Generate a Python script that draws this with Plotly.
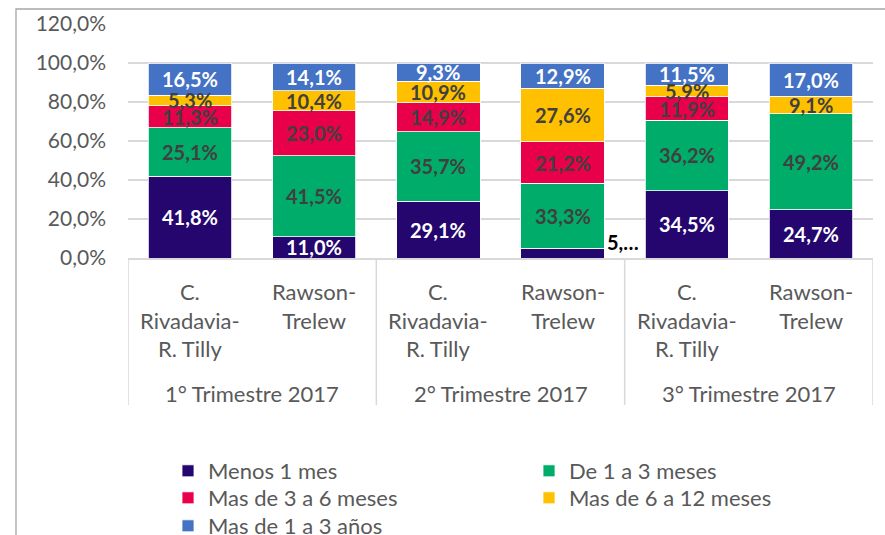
import plotly.graph_objects as go

# Quarter groups and the two urban areas inside each one
groups = ["1° Trimestre 2017", "2° Trimestre 2017", "3° Trimestre 2017"]
sites = ["C.<br>Rivadavia-<br>R. Tilly", "Rawson-<br>Trelew"]

# Share of unemployed by time looking for work (%)
menos_1_mes = [41.8, 11.0, 29.1, 5.0, 34.5, 24.7]
de_1_a_3_meses = [25.1, 41.5, 35.7, 33.3, 36.2, 49.2]
mas_3_a_6_meses = [11.3, 23.0, 14.9, 21.2, 11.9, 0.0]
mas_6_a_12_meses = [5.3, 10.4, 10.9, 27.6, 5.9, 9.1]
mas_1_a_3_anos = [16.5, 14.1, 9.3, 12.9, 11.5, 17.0]

series_names = ["Menos 1 mes", "De 1 a 3 meses", "Mas de 3 a 6 meses",
                "Mas de 6 a 12 meses", "Mas de 1 a 3 años"]
series_values = [menos_1_mes, de_1_a_3_meses, mas_3_a_6_meses,
                 mas_6_a_12_meses, mas_1_a_3_anos]
series_colors = ["#24066E", "#00AC69", "#E8004B", "#FFC000", "#4472C4"]
label_colors = ["white", "#404040", "#404040", "#404040", "white"]

y_ticks = [0, 20, 40, 60, 80, 100, 120]

FONT = "Lato, Calibri, Carlito, sans-serif"
GRAY = "#595959"
LINE = "#D9D9D9"

n = len(menos_1_mes)
xpos = list(range(n))
bar_width = 0.67

plot_w = 885 - 128 - 12
plot_h = 535 - 24 - 277


def fmt(v):
    return f"{v:.1f}".replace(".", ",") + "%"


# one legend box per entry, laid out as a two-column grid (left, right) x rows
legend_ids = ["legend", "legend2", "legend3", "legend4", "legend5"]
legend_col_px = [40, 401]          # left edge of each column, px from plot left
legend_row_px = [192, 219, 247]    # top of each row, px below the x axis

fig = go.Figure()
for k, (name, vals, col) in enumerate(zip(series_names, series_values, series_colors)):
    fig.add_trace(go.Bar(
        x=xpos, y=vals, name=name, width=bar_width, legend=legend_ids[k],
        marker=dict(color=col, line=dict(color="white", width=0.8)),
        hoverinfo="skip",
    ))

annotations = []
bottoms = [0.0] * n
for s, vals in enumerate(series_values):
    for i, v in enumerate(vals):
        mid = bottoms[i] + v / 2
        if v > 0:
            if v < 6.0 and s == 0:
                # too thin to hold the label: truncated label beside the bar
                annotations.append(dict(
                    x=i, y=mid, xref="x", yref="y", text="<b>" + fmt(v)[:2] + "…</b>",
                    showarrow=False, xanchor="left", yanchor="middle",
                    xshift=bar_width / 2 * 124 + 1, yshift=11,
                    font=dict(family=FONT, size=20, color="black")))
            else:
                annotations.append(dict(
                    x=i, y=mid, xref="x", yref="y", text="<b>" + fmt(v) + "</b>",
                    showarrow=False, xanchor="center", yanchor="middle",
                    font=dict(family=FONT, size=20, color=label_colors[s])))
        bottoms[i] += v

# Two-level category labels below the axis
for i in xpos:
    annotations.append(dict(
        x=i, y=0, xref="x", yref="paper", text=sites[i % 2],
        showarrow=False, xanchor="center", yanchor="top", yshift=-18, align="center",
        font=dict(family=FONT, size=22, color=GRAY)))
for g, label in enumerate(groups):
    annotations.append(dict(
        x=2 * g + 0.5, y=0, xref="x", yref="paper", text=label,
        showarrow=False, xanchor="center", yanchor="middle", yshift=-135,
        font=dict(family=FONT, size=22, color=GRAY)))

shapes = []
# group dividers
for b in [-0.5, 1.5, 3.5, 5.5]:
    shapes.append(dict(type="line", xref="x", yref="paper", x0=b, x1=b,
                       y0=0, y1=-(147 / plot_h), line=dict(color=LINE, width=1.5)))
# outer chart frame
shapes.append(dict(type="rect", xref="paper", yref="paper",
                   x0=-(112 / plot_w), x1=1.2, y0=-1.5, y1=1 + (15 / plot_h),
                   line=dict(color="#A6A6A6", width=1.3), layer="below"))

legends = {}
for k, lid in enumerate(legend_ids):
    row, colm = divmod(k, 2)
    legends[lid] = dict(
        orientation="v", xanchor="left", yanchor="top",
        x=legend_col_px[colm] / plot_w, y=-(legend_row_px[row] / plot_h),
        font=dict(family=FONT, size=22, color=GRAY),
        bgcolor="rgba(0,0,0,0)")

fig.update_layout(
    width=885, height=535,
    margin=dict(l=128, r=12, t=24, b=277, autoexpand=False),
    paper_bgcolor="white", plot_bgcolor="white",
    barmode="stack", separators=",.",
    font=dict(family=FONT, size=21, color=GRAY),
    xaxis=dict(range=[-0.5, n - 0.5], showticklabels=False, showgrid=False,
               zeroline=False, showline=True, linecolor=LINE, linewidth=1.5,
               fixedrange=True),
    yaxis=dict(range=[0, 120], tickmode="array", tickvals=y_ticks,
               ticktext=[fmt(v) for v in y_ticks],
               showgrid=True, gridcolor=LINE, gridwidth=1.5, zeroline=False,
               showline=False, ticklabelstandoff=21,
               tickfont=dict(family=FONT, size=21, color=GRAY), fixedrange=True),
    annotations=annotations,
    shapes=shapes,
    showlegend=True,
    **legends,
)

fig.write_html("out.html")
